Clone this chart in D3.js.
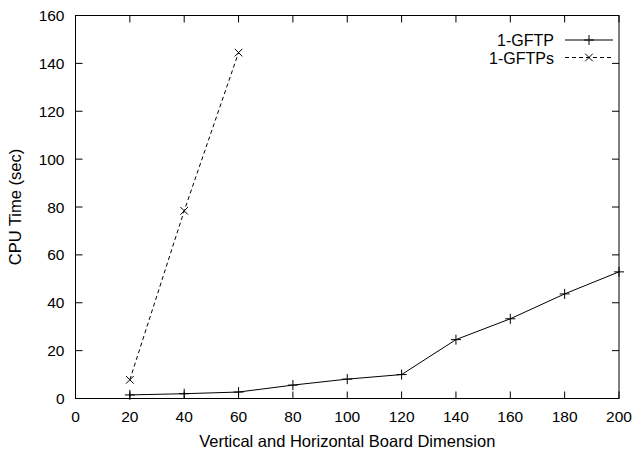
<!DOCTYPE html>
<html>
<head>
<meta charset="utf-8">
<script src="https://cdn.jsdelivr.net/npm/d3@7"></script>
<style>
  body { margin: 0; background: #fff; }
  text { font-family: "Liberation Sans", Arial, sans-serif; fill: #000; }
</style>
</head>
<body>
<div id="chart"></div>
<script>
// board dimension on x, CPU seconds on y
const dims = [20, 40, 60, 80, 100, 120, 140, 160, 180, 200];
const gftp = [1.5, 2.0, 2.7, 5.6, 8.1, 10.0, 24.6, 33.3, 43.7, 52.9];
const dimsS = [20, 40, 60];
const gftps = [7.8, 78.4, 144.5];
const xTicks = [0, 20, 40, 60, 80, 100, 120, 140, 160, 180, 200];
const yTicks = [0, 20, 40, 60, 80, 100, 120, 140, 160];

const width = 634, height = 450;
const margin = {top: 15.5, right: 15, bottom: 51.5, left: 75.5};

const svg = d3.select("#chart").append("svg")
    .attr("width", width)
    .attr("height", height);

const x = d3.scaleLinear().domain([0, 200]).range([margin.left, width - margin.right]);
const y = d3.scaleLinear().domain([0, 160]).range([height - margin.bottom, margin.top]);

const tickLen = 7;

// ticks, mirrored on all four sides, pointing in
const g = svg.append("g").attr("stroke", "#000").attr("stroke-width", 1);
xTicks.forEach(t => {
  g.append("line").attr("x1", x(t)).attr("x2", x(t)).attr("y1", y(0)).attr("y2", y(0) - tickLen);
  g.append("line").attr("x1", x(t)).attr("x2", x(t)).attr("y1", y(160)).attr("y2", y(160) + tickLen);
});
yTicks.forEach(t => {
  g.append("line").attr("x1", x(0)).attr("x2", x(0) + tickLen).attr("y1", y(t)).attr("y2", y(t));
  g.append("line").attr("x1", x(200)).attr("x2", x(200) - tickLen).attr("y1", y(t)).attr("y2", y(t));
});

// tick labels
svg.append("g").selectAll("text").data(xTicks).join("text")
    .attr("x", d => x(d)).attr("y", y(0) + 23.5)
    .attr("text-anchor", "middle").style("font-size", "15.5px")
    .text(d => d);
svg.append("g").selectAll("text").data(yTicks).join("text")
    .attr("x", x(0) - 11).attr("y", d => y(d) + 5.5)
    .attr("text-anchor", "end").style("font-size", "15.5px")
    .text(d => d);

// axis titles
svg.append("text")
    .attr("x", (x(0) + x(200)) / 2).attr("y", 446.5)
    .attr("text-anchor", "middle").style("font-size", "16.5px")
    .text("Vertical and Horizontal Board Dimension");
svg.append("text")
    .attr("transform", `translate(21, ${(y(0) + y(160)) / 2}) rotate(-90)`)
    .attr("text-anchor", "middle").style("font-size", "16.5px")
    .text("CPU Time (sec)");

const line = d3.line().x(d => x(d[0])).y(d => y(d[1]));

const s1 = dims.map((d, i) => [d, gftp[i]]);
const s2 = dimsS.map((d, i) => [d, gftps[i]]);

svg.append("path").datum(s1)
    .attr("d", line).attr("fill", "none").attr("stroke", "#000").attr("stroke-width", 1);
svg.append("path").datum(s2)
    .attr("d", line).attr("fill", "none").attr("stroke", "#000").attr("stroke-width", 1)
    .attr("stroke-dasharray", "4,3");

const plus = (sel, cx, cy) => {
  sel.append("line").attr("x1", cx - 5).attr("x2", cx + 5).attr("y1", cy).attr("y2", cy);
  sel.append("line").attr("x1", cx).attr("x2", cx).attr("y1", cy - 5).attr("y2", cy + 5);
};
const cross = (sel, cx, cy) => {
  sel.append("line").attr("x1", cx - 3.8).attr("x2", cx + 3.8).attr("y1", cy - 3.8).attr("y2", cy + 3.8);
  sel.append("line").attr("x1", cx - 3.8).attr("x2", cx + 3.8).attr("y1", cy + 3.8).attr("y2", cy - 3.8);
};

const marks = svg.append("g").attr("stroke", "#000").attr("stroke-width", 1);
s1.forEach(d => plus(marks, x(d[0]), y(d[1])));
s2.forEach(d => cross(marks, x(d[0]), y(d[1])));

// frame
svg.append("rect")
    .attr("x", x(0)).attr("y", y(160))
    .attr("width", x(200) - x(0)).attr("height", y(0) - y(160))
    .attr("fill", "none").attr("stroke", "#000").attr("stroke-width", 1);

// legend
const legend = [
  {name: "1-GFTP", dash: null, mark: plus},
  {name: "1-GFTPs", dash: "4,3", mark: cross}
];
legend.forEach((l, i) => {
  const ly = 40 + i * 17.5;
  svg.append("text").attr("x", 554).attr("y", ly + 6)
      .attr("text-anchor", "end").style("font-size", "16px").text(l.name);
  svg.append("line").attr("x1", 565).attr("x2", 613).attr("y1", ly).attr("y2", ly)
      .attr("stroke", "#000").attr("stroke-dasharray", l.dash);
  l.mark(marks, 589, ly);
});
</script>
</body>
</html>
